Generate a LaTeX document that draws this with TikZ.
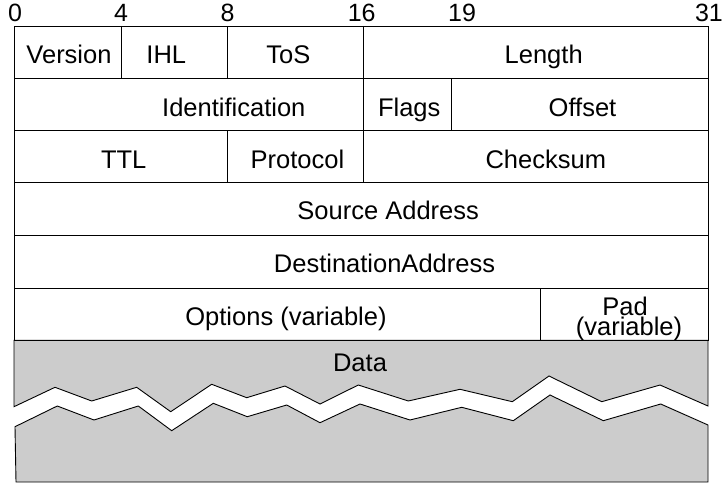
\documentclass[tikz,border=0pt]{standalone}
\usepackage{fontspec}
\setmainfont{Liberation Sans}
\begin{document}
\begin{tikzpicture}[x=1bp,y=-1bp,
  cell/.style={draw=black,line width=0.9bp},
  datafill/.style={fill=datagray,draw=black,line width=0.9bp,line join=miter},
  lbl/.style={font=\fontsize{25.5bp}{20bp}\selectfont,anchor=base,inner sep=0pt},
  bitlbl/.style={font=\fontsize{25bp}{20bp}\selectfont,anchor=base,inner sep=0pt}]
\definecolor{datagray}{HTML}{CCCCCC}
\useasboundingbox (0,0) rectangle (723,487);
% bit numbers
\node[bitlbl] (b0) at (15,21.7) {0};
\node[bitlbl] (b4) at (121,21.7) {4};
\node[bitlbl] (b8) at (227.5,21.7) {8};
\node[bitlbl] (b16) at (361.7,21.7) {16};
\node[bitlbl] (b19) at (462,21.7) {19};
\node[bitlbl,anchor=base east] (b31) at (723,21.7) {31};
% data area
\draw[datafill] (14,340.3) -- (708,340.3) -- (708,406)
  -- (660,385) -- (601.7,401.7) -- (549,376) -- (512.3,401.7) -- (460,389.3)
  -- (408.3,401) -- (358.3,385) -- (320,404) -- (285,386) -- (246.7,397.7)
  -- (211.7,384.3) -- (170.7,411.7) -- (136.7,387.3) -- (91.7,401) -- (55,387.3)
  -- (14,406.7) -- cycle;
\draw[datafill] (15,426.7) -- (57.3,406) -- (94,420) -- (138.3,406) -- (171.7,430.7)
  -- (213.3,403.3) -- (247.3,416.7) -- (286.7,405) -- (320,422.7) -- (360,404)
  -- (410,420) -- (461.7,407.3) -- (513.3,420.7) -- (550,395) -- (603.3,420.7)
  -- (660.7,404) -- (708,425) -- (708,482) -- (16,482) -- cycle;
% header grid
\draw[cell] (14,26) rectangle (708,340.3);
\foreach \yy in {78.5,130.5,182.7,235.7,288.3} \draw[cell] (14,\yy) -- (708,\yy);
\draw[cell] (121,26) -- (121,78.5);
\draw[cell] (227.5,26) -- (227.5,78.5);
\draw[cell] (363.5,26) -- (363.5,182.7);
\draw[cell] (451,78.5) -- (451,130.5);
\draw[cell] (227.5,130.5) -- (227.5,182.7);
\draw[cell] (540,288.3) -- (540,340.3);
% labels
\node[lbl] (version) at (69,64) {Version};
\node[lbl] (ihl) at (166.3,64) {IHL};
\node[lbl] (tos) at (288.3,64) {ToS};
\node[lbl] (length) at (543.7,64) {Length};
\node[lbl] (ident) at (233.8,116.5) {Identification};
\node[lbl] (flags) at (409.2,116.5) {Flags};
\node[lbl] (offset) at (582.5,116.5) {Offset};
\node[lbl] (ttl) at (123.7,168.5) {TTL};
\node[lbl] (proto) at (297.5,168.5) {Protocol};
\node[lbl] (cksum) at (545.8,168.5) {Checksum};
\node[lbl] (src) at (388.2,220) {Source Address};
\node[lbl] (dst) at (384.5,272.5) {DestinationAddress};
\node[lbl] (opts) at (286,325) {Options (variable)};
\node[lbl,align=center] (pad) at (629,335) {\kern-8bp Pad\\(variable)};
\node[lbl] (data) at (360,371) {Data};
\end{tikzpicture}
\end{document}
